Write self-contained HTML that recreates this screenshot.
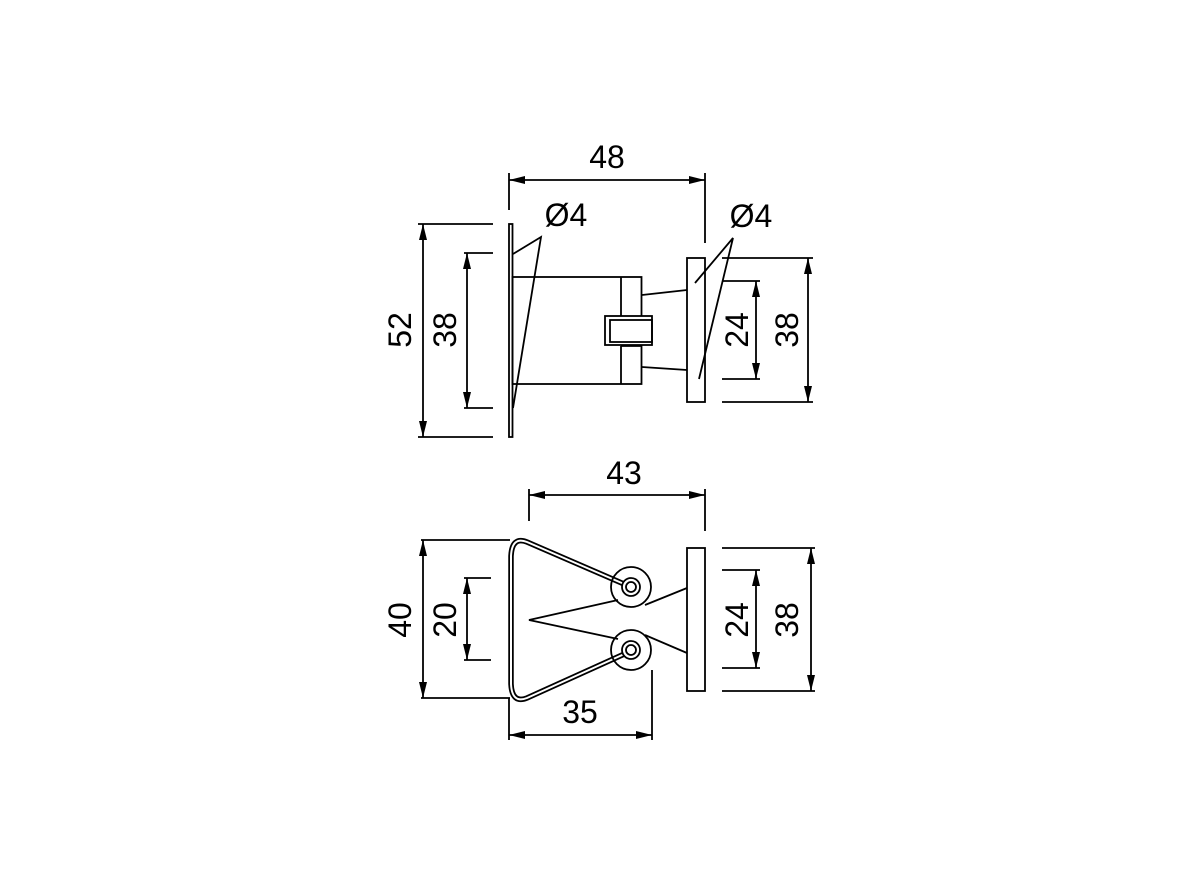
<!DOCTYPE html>
<html><head><style>html,body{margin:0;padding:0;background:#fff}svg{display:block}</style></head>
<body>
<svg width="1200" height="883" viewBox="0 0 1200 883" xmlns="http://www.w3.org/2000/svg">
<defs>
<marker id="a" viewBox="0 0 16 8" refX="16" refY="4" markerWidth="16" markerHeight="8" markerUnits="userSpaceOnUse" orient="auto-start-reverse"><path d="M0,0 L16,4 L0,8 Z" fill="#000"/></marker>
</defs>
<g stroke="#000" stroke-width="1.8" fill="none">
<!-- TOP VIEW -->
<line x1="509" y1="173" x2="509" y2="210"/>
<line x1="705" y1="173" x2="705" y2="243"/>
<line x1="509" y1="180" x2="705" y2="180" marker-start="url(#a)" marker-end="url(#a)"/>
<rect x="509" y="224" width="3.5" height="213"/>
<rect x="512.5" y="277" width="129" height="107"/>
<line x1="621" y1="277" x2="621" y2="318"/>
<line x1="621" y1="346" x2="621" y2="384"/>
<line x1="621" y1="318" x2="641.5" y2="318"/>
<line x1="621" y1="346" x2="641.5" y2="346"/>
<rect x="605" y="316" width="47" height="29" fill="#fff"/>
<rect x="610" y="320" width="42" height="22"/>
<line x1="642" y1="295" x2="687" y2="290"/>
<line x1="642" y1="367" x2="687" y2="370"/>
<rect x="687" y="258" width="18" height="144"/>
<polyline points="513,254 541,237 513,408"/>
<polyline points="695,283 733,238 699,379"/>
<line x1="418" y1="224" x2="493" y2="224"/>
<line x1="418" y1="437" x2="493" y2="437"/>
<line x1="423" y1="224" x2="423" y2="437" marker-start="url(#a)" marker-end="url(#a)"/>
<line x1="464" y1="253" x2="493" y2="253"/>
<line x1="464" y1="408" x2="493" y2="408"/>
<line x1="467" y1="253" x2="467" y2="408" marker-start="url(#a)" marker-end="url(#a)"/>
<line x1="722" y1="281" x2="760" y2="281"/>
<line x1="722" y1="379" x2="760" y2="379"/>
<line x1="756" y1="281" x2="756" y2="379" marker-start="url(#a)" marker-end="url(#a)"/>
<line x1="722" y1="258" x2="813" y2="258"/>
<line x1="722" y1="402" x2="813" y2="402"/>
<line x1="808" y1="258" x2="808" y2="402" marker-start="url(#a)" marker-end="url(#a)"/>

<!-- BOTTOM VIEW -->
<line x1="529" y1="489" x2="529" y2="521"/>
<line x1="705" y1="489" x2="705" y2="531"/>
<line x1="529" y1="495" x2="705" y2="495" marker-start="url(#a)" marker-end="url(#a)"/>
<rect x="687" y="548" width="18" height="143"/>
<polyline points="618,600 529,620 618,639"/>
<line x1="645" y1="605" x2="687" y2="588"/>
<line x1="645" y1="635" x2="687" y2="653"/>
<path d="M631,587 L527,542 Q512,536 511,556 L511,684 Q512,704 527,698 L631,651" stroke-width="5.5"/>
<path d="M631,587 L527,542 Q512,536 511,556 L511,684 Q512,704 527,698 L631,651" stroke="#fff" stroke-width="2"/>
<circle cx="631" cy="587" r="20"/>
<circle cx="631" cy="650" r="20"/>
<circle cx="631" cy="587" r="9" fill="#fff"/><circle cx="631" cy="587" r="5"/>
<circle cx="631" cy="650" r="9" fill="#fff"/><circle cx="631" cy="650" r="5"/>
<line x1="421" y1="540" x2="510" y2="540"/>
<line x1="421" y1="698" x2="510" y2="698"/>
<line x1="423" y1="540" x2="423" y2="698" marker-start="url(#a)" marker-end="url(#a)"/>
<line x1="464" y1="578" x2="491" y2="578"/>
<line x1="464" y1="660" x2="491" y2="660"/>
<line x1="467" y1="578" x2="467" y2="660" marker-start="url(#a)" marker-end="url(#a)"/>
<line x1="722" y1="570" x2="760" y2="570"/>
<line x1="722" y1="668" x2="760" y2="668"/>
<line x1="756" y1="570" x2="756" y2="668" marker-start="url(#a)" marker-end="url(#a)"/>
<line x1="722" y1="548" x2="815" y2="548"/>
<line x1="722" y1="691" x2="815" y2="691"/>
<line x1="811" y1="548" x2="811" y2="691" marker-start="url(#a)" marker-end="url(#a)"/>
<line x1="509" y1="698" x2="509" y2="740"/>
<line x1="652" y1="670" x2="652" y2="740"/>
<line x1="509" y1="735" x2="652" y2="735" marker-start="url(#a)" marker-end="url(#a)"/>
</g>
<g font-family="Liberation Sans, sans-serif" font-size="32" fill="#000" text-anchor="middle">
<text x="607" y="168">48</text>
<text x="566" y="226">Ø4</text>
<text x="751" y="227">Ø4</text>
<text transform="translate(411,330) rotate(-90)">52</text>
<text transform="translate(456,330) rotate(-90)">38</text>
<text transform="translate(748,330) rotate(-90)">24</text>
<text transform="translate(798,330) rotate(-90)">38</text>
<text x="624" y="484">43</text>
<text transform="translate(411,620) rotate(-90)">40</text>
<text transform="translate(456,620) rotate(-90)">20</text>
<text transform="translate(748,620) rotate(-90)">24</text>
<text transform="translate(798,620) rotate(-90)">38</text>
<text x="580" y="723">35</text>
</g>
</svg>
</body></html>
